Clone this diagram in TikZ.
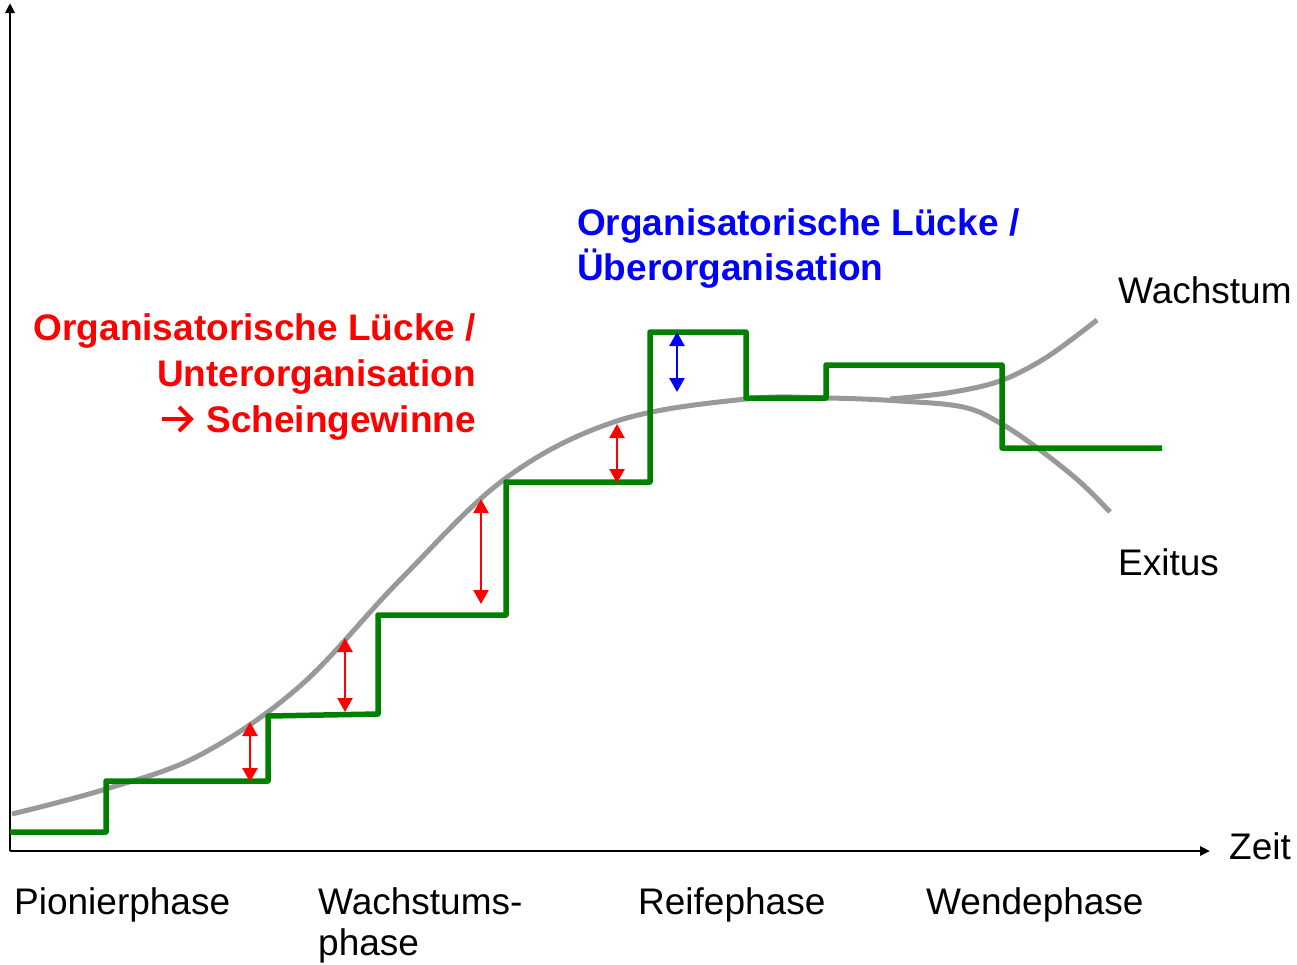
\documentclass[tikz,border=0pt]{standalone}
\usepackage{fontspec}
\setmainfont{Liberation Sans}
\usetikzlibrary{arrows.meta}
\definecolor{stepgreen}{RGB}{0,128,0}
\definecolor{curvegray}{RGB}{153,153,153}
\definecolor{gapred}{RGB}{255,0,0}
\definecolor{gapblue}{RGB}{0,0,255}
\begin{document}
\begin{tikzpicture}[x=1pt,y=-1pt,
  lbl/.style={inner sep=0pt,font=\fontsize{37}{44}\selectfont},
  boldlbl/.style={inner sep=0pt,font=\fontsize{37}{44}\selectfont\bfseries},
  axisline/.style={line width=2.5pt,-{Triangle[width=9pt,length=10pt]}},
  steps/.style={line width=5.5pt,stepgreen,line join=round},
  curve/.style={line width=5pt,curvegray},
  gaparrow/.style={line width=2.5pt,{Triangle[width=15pt,length=14pt]}-{Triangle[width=15pt,length=14pt]}},
  textarrow/.style={line width=4.2pt,gapred,line join=miter}
]
\useasboundingbox (0,0) rectangle (1297,964);
\fill[white] (0,0) rectangle (1297,964);

% axes
\coordinate (origin) at (10,851);
\coordinate (ytip) at (10,3);
\coordinate (xtip) at (1210,851);
\draw[axisline] (origin) -- (ytip);
\draw[axisline] (origin) -- (xtip);

% gray curves
\draw[curve] plot[smooth,tension=0.6] coordinates {
  (12,814) (106,789) (200,755) (300,686) (400,580)
  (506,478) (617,421) (746,399)
  (826,398) (900,401) (963,407) (1000,423) (1040,450)
  (1080,482) (1110,512)};
\draw[curve] plot[smooth,tension=0.55] coordinates {
  (890,399) (947,393) (1000,381) (1047,357) (1097,320)};

% green steps
\draw[steps] (10,832) -- (106,832) -- (106,781) -- (268,781) -- (268,716)
  -- (378,714) -- (378,615) -- (506,615) -- (506,482) -- (650,482)
  -- (650,332) -- (746,332) -- (746,398) -- (826,398) -- (826,365)
  -- (1002,365) -- (1002,448) -- (1162,448);

% gap arrows
\coordinate (g1a) at (250,722); \coordinate (g1b) at (250,782);
\coordinate (g2a) at (345,638); \coordinate (g2b) at (345,712);
\coordinate (g3a) at (481,499); \coordinate (g3b) at (481,604);
\coordinate (g4a) at (617,424); \coordinate (g4b) at (617,483);
\coordinate (g5a) at (677,332); \coordinate (g5b) at (677,392);
\draw[gaparrow,gapred] (g1a) -- (g1b);
\draw[gaparrow,gapred] (g2a) -- (g2b);
\draw[gaparrow,gapred] (g3a) -- (g3b);
\draw[gaparrow,gapred] (g4a) -- (g4b);
\draw[gaparrow,gapblue] (g5a) -- (g5b);

% red text
\node[boldlbl,text=gapred,anchor=base east] (r1) at (476,340) {Organisatorische Lücke /};
\node[boldlbl,text=gapred,anchor=base east] (r2) at (476,386) {Unterorganisation};
\node[boldlbl,text=gapred,anchor=base east] (r3) at (476,432) {Scheingewinne};
% arrow symbol before "Scheingewinne"
\coordinate (ta) at (162,419);
\coordinate (tb) at (191,419);
\draw[textarrow] (ta) -- (tb);
\draw[textarrow] (179,407) -- (tb) -- (179,431);

% blue text
\node[boldlbl,text=gapblue,anchor=base west] (b1) at (577,235) {Organisatorische Lücke /};
\node[boldlbl,text=gapblue,anchor=base west] (b2) at (577,280) {Überorganisation};

% curve labels
\node[lbl,anchor=base west] (wachstum) at (1118,303) {Wachstum};
\node[lbl,anchor=base west] (exitus) at (1118,575) {Exitus};
\node[lbl,anchor=base west] (zeit) at (1229,859) {Zeit};

% phase labels
\node[lbl,anchor=base west] (p1) at (14,914) {Pionierphase};
\node[lbl,anchor=base west] (p2a) at (318,914) {Wachstums-};
\node[lbl,anchor=base west] (p2b) at (318,955) {phase};
\node[lbl,anchor=base west] (p3) at (638,914) {Reifephase};
\node[lbl,anchor=base west] (p4) at (926,914) {Wendephase};
\end{tikzpicture}
\end{document}
